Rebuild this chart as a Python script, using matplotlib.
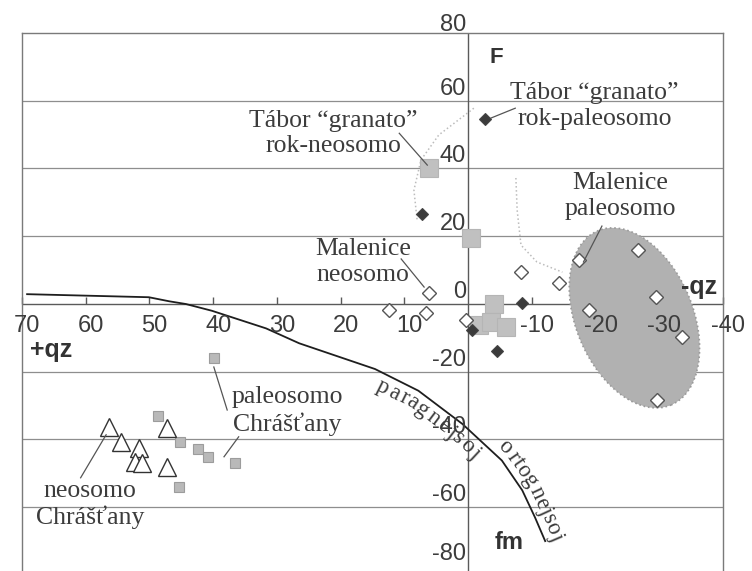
import numpy as np
import matplotlib
matplotlib.use("Agg")
import matplotlib.pyplot as plt
import matplotlib.transforms as mtransforms
from matplotlib.patches import Ellipse
from matplotlib.font_manager import FontProperties

# ---------------- data ----------------
tabor_paleo_x = [-2.6, 7.2, -8.4, -0.6, -4.6]
tabor_paleo_y = [54.5, 26.5, 0.2, -7.7, -14.0]

tabor_neo_x = [6.2, -0.4, -4.1, -1.7, -3.6, -6.0]
tabor_neo_y = [40.0, 19.4, 0.0, -6.2, -5.3, -6.8]

malenice_neo_x = [6.1, 12.4, 6.6, 0.4, -8.3, -14.3]
malenice_neo_y = [3.2, -1.8, -2.7, -4.7, 9.5, 6.1]

malenice_paleo_x = [-17.4, -26.6, -29.5, -19.0, -33.6, -29.7]
malenice_paleo_y = [13.0, 15.9, 2.2, -1.8, -9.6, -28.3]

chrast_paleo_x = [39.9, 48.6, 45.2, 42.4, 40.8, 36.6, 45.4]
chrast_paleo_y = [-15.8, -33.0, -40.6, -42.8, -45.2, -47.0, -53.9]

chrast_neo_x = [56.4, 54.5, 51.6, 47.2, 52.2, 51.1, 47.3]
chrast_neo_y = [-36.2, -40.6, -42.6, -36.7, -46.5, -47.0, -48.0]

# para-/ortho-gneiss dividing line
boundary_x = [69.2, 50.1, 46.9, 44.3, 40.2, 31.7, 26.5, 14.6, 7.8, 0.9, -5.3, -8.5, -10.5, -12.1]
boundary_y = [2.9, 2.0, 0.8, 0.0, -2.0, -7.2, -11.6, -19.2, -25.6, -35.4, -46.2, -55.0, -63.0, -70.0]

x_ticks = [70, 60, 50, 40, 30, 20, 10, -10, -20, -30, -40]
y_ticks = [80, 60, 40, 20, 0, -20, -40, -60, -80]
grid_levels = [60, 40, 20, -20, -40, -60]

# ---------------- figure ----------------
W, H, DPI = 752, 571, 100
fig = plt.figure(figsize=(W / DPI, H / DPI), dpi=DPI)
ax = fig.add_axes([22 / W, 1 - 575 / H, 701 / W, 542 / H])
ax.set_xlim(70, -40)
ax.set_ylim(-80, 80)
ax.set_xticks([])
ax.set_yticks([])
for side, sp in ax.spines.items():
    sp.set_color("#7a7a7a")
    sp.set_linewidth(1.0)

serif = ["Liberation Serif", "DejaVu Serif"]
sans = ["Liberation Sans", "DejaVu Sans"]
txt_col = "#3c3c3c"

for g in grid_levels:
    ax.axhline(g, color="#8e8e8e", lw=0.9, zorder=0.5)
ax.axhline(0, color="#5a5a5a", lw=1.0, zorder=0.6)
ax.axvline(0, color="#5a5a5a", lw=1.0, zorder=0.6)
ax.plot(x_ticks, [0] * len(x_ticks), ls="none", marker=2, ms=5,
        mew=1.0, color="#5a5a5a", zorder=0.6, clip_on=False)

# tick labels
for v in x_ticks:
    ax.annotate(f"{v}", (v, 0), xytext=(5, -22), textcoords="offset pixels",
                ha="center", va="center", fontsize=17, family=sans, color=txt_col)
y_label_lift = {80: 8, -80: 21}
for v in y_ticks:
    ax.annotate(f"{v}", (0, v), xytext=(-2, y_label_lift.get(v, 12)),
                textcoords="offset pixels", ha="right", va="center",
                fontsize=17, family=sans, color=txt_col)

# shaded Malenice paleosome field (size given in inches on screen)
field_tr = fig.dpi_scale_trans + mtransforms.ScaledTranslation(-26.1, -4.1, ax.transData)
ax.add_patch(Ellipse((0, 0), width=1.17, height=1.89, angle=22.8, transform=field_tr,
                     facecolor="#b1b1b1", edgecolor="#9a9a9a", ls=":", lw=1.2, zorder=1))

# faint dotted outlines
ax.plot([-0.9, 4.6, 7.4, 8.5, 8.0], [57.8, 49.9, 42.5, 33.6, 24.8],
        ls=":", color="#bcbcbc", lw=1.1, zorder=0.8)
ax.plot([-7.5, -7.7, -8.3, -10.8, -14.8], [37.2, 27.7, 17.4, 12.4, 9.4],
        ls=":", color="#bcbcbc", lw=1.1, zorder=0.8)

# boundary curve
ax.plot(boundary_x, boundary_y, color="#1e1e1e", lw=1.3, zorder=2)

# series
ax.plot(tabor_neo_x, tabor_neo_y, ls="none", marker="s", ms=13,
        mfc="#c0c0c0", mec="#b5b5b5", mew=0.8, zorder=3)
ax.plot(chrast_paleo_x, chrast_paleo_y, ls="none", marker="s", ms=7,
        mfc="#b9b9b9", mec="#9c9c9c", mew=0.8, zorder=3)
ax.plot(malenice_neo_x + malenice_paleo_x, malenice_neo_y + malenice_paleo_y,
        ls="none", marker="D", ms=7.5, mfc="white", mec="#555555", mew=1.0, zorder=4)
ax.plot(tabor_paleo_x, tabor_paleo_y, ls="none", marker="D", ms=6.5,
        mfc="#3b3b3b", mec="#444444", mew=0.8, zorder=5)
ax.plot(chrast_neo_x, chrast_neo_y, ls="none", marker="^", ms=13.5,
        mfc="white", mec="#333333", mew=1.0, zorder=4)

# leader lines
leaders = [
    ([10.8, 6.4], [50.4, 41.0]),
    ([-3.6, -7.4], [54.9, 57.8]),
    ([10.5, 6.9], [13.3, 5.0]),
    ([-21.0, -18.1], [23.0, 12.4]),
    ([39.9, 37.8], [-18.6, -31.3]),
    ([36.0, 38.3], [-39.2, -45.1]),
    ([56.8, 60.8], [-38.6, -51.3]),
]
for lx, ly in leaders:
    ax.plot(lx, ly, color="#555555", lw=0.9, zorder=4)

# annotations
notes = [
    ("T\u00e1bor \u201cgranato\u201d\nrok-neosomo", 21.2, 50.4),
    ("T\u00e1bor \u201cgranato\u201d\nrok-paleosomo", -19.8, 58.4),
    ("Malenice\npaleosomo", -23.9, 31.9),
    ("Malenice\nneosomo", 16.5, 12.4),
    ("paleosomo\nChr\u00e1\u0161\u0165any", 28.4, -31.6),
    ("neosomo\nChr\u00e1\u0161\u0165any", 59.3, -59.3),
]
for s, x, y in notes:
    ax.text(x, y, s, ha="center", va="center", fontsize=18.5, family=serif,
            color=txt_col, linespacing=1.2, zorder=6)

for s, x, y, fs in [("F", -4.4, 72.9, 16), ("fm", -6.4, -70.5, 17),
                    ("+qz", 65.5, -13.6, 18), ("-qz", -36.3, 5.0, 18)]:
    ax.text(x, y, s, ha="center", va="center", fontsize=fs, fontweight="bold",
            family=sans, color="#333333", zorder=6)

# text running along the boundary curve
renderer = fig.canvas.get_renderer()
curve = ax.transData.transform(np.column_stack([boundary_x, boundary_y]))
seg = np.hypot(np.diff(curve[:, 0]), np.diff(curve[:, 1]))
arc = np.concatenate([[0], np.cumsum(seg)])
fp = FontProperties(family=serif, size=16.5)


def point_at(s):
    return np.array([np.interp(s, arc, curve[:, 0]), np.interp(s, arc, curve[:, 1])])


def curved_text(text, start_x, offset, spacing=0.0):
    sx = ax.transData.transform((start_x, 0))[0]
    s = np.interp(sx, curve[:, 0], arc)
    for ch in text:
        w = renderer.get_text_width_height_descent(ch, fp, ismath=False)[0]
        mid = s + w / 2
        p = point_at(mid)
        d = point_at(mid + 4) - point_at(mid - 4)
        ang = np.arctan2(d[1], d[0])
        n = np.array([-np.sin(ang), np.cos(ang)])
        q = p + offset * n
        fig.text(q[0], q[1], ch, transform=mtransforms.IdentityTransform(),
                 rotation=np.degrees(ang), rotation_mode="anchor",
                 ha="center", va="center", fontproperties=fp, color=txt_col, zorder=6)
        s += w + spacing


curved_text("paragnejsoj", 13.3, -13, spacing=2.2)
curved_text("ortognejsoj", -3.9, 12, spacing=0.5)

fig.savefig("out.png", dpi=DPI)
